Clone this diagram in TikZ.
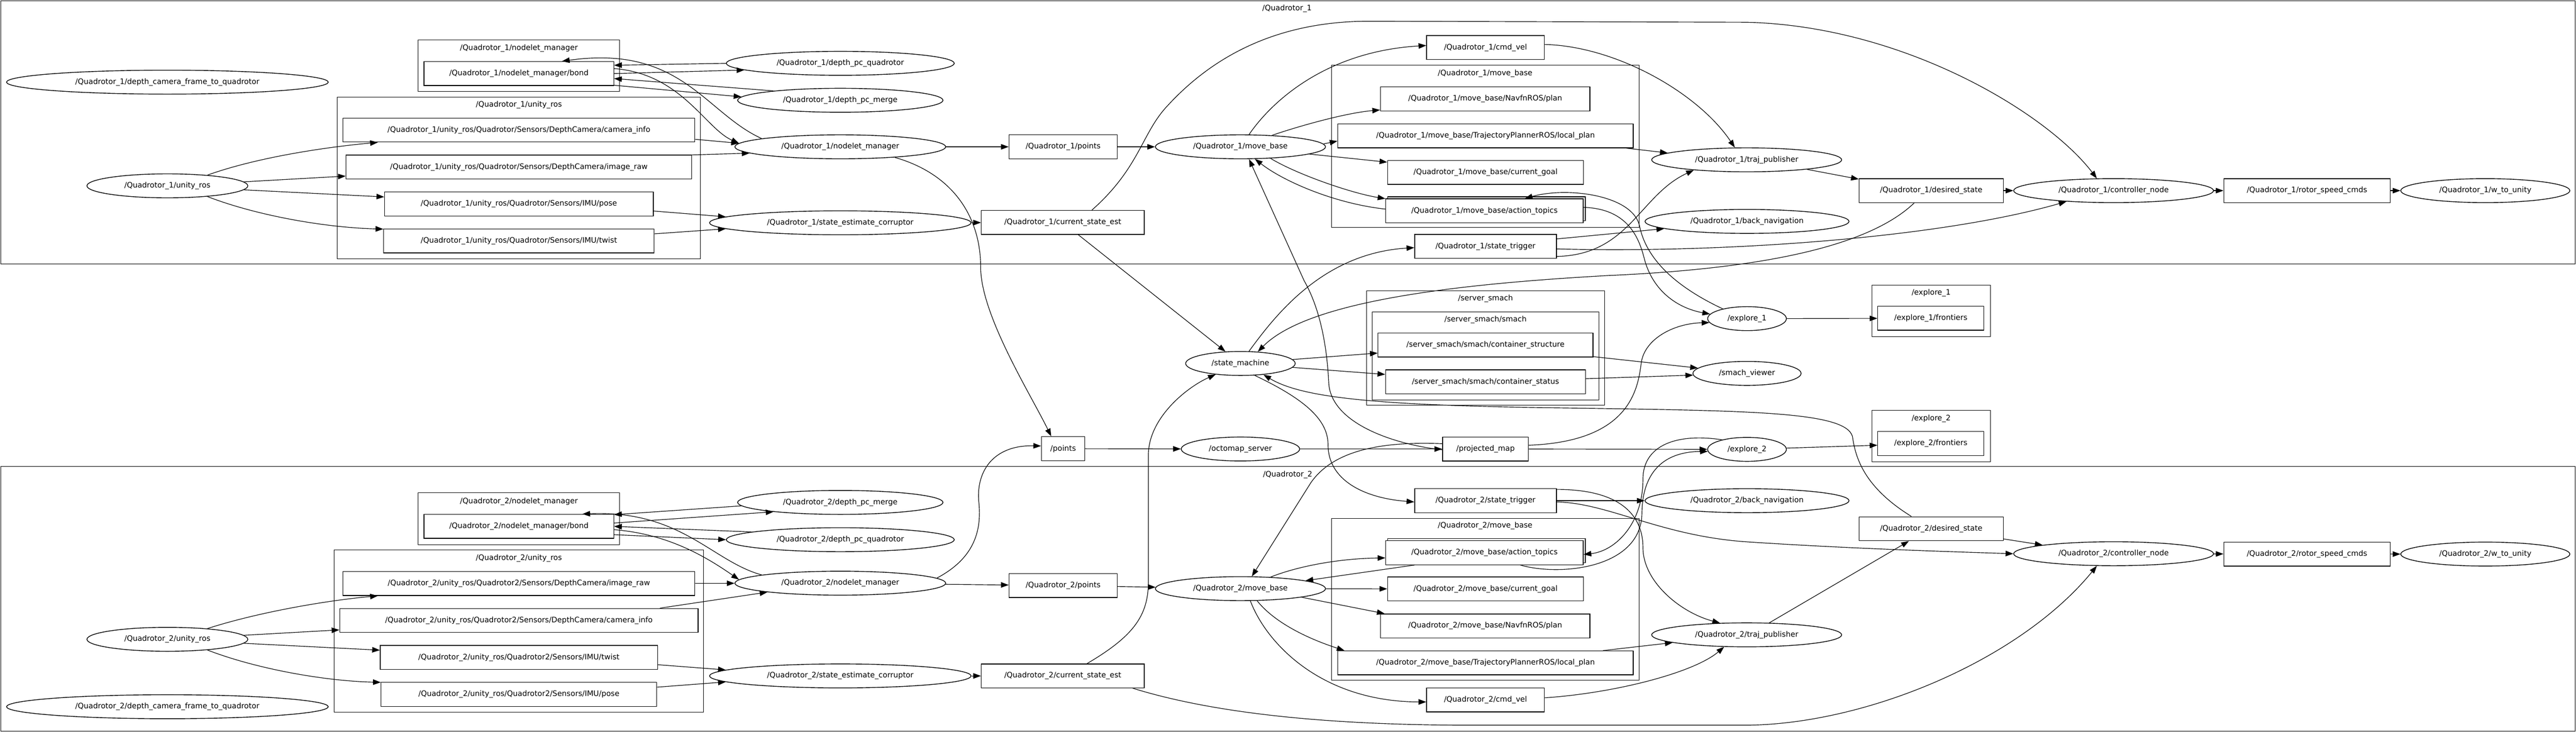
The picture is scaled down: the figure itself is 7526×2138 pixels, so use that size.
\documentclass[tikz,border=0pt]{standalone}
\usepackage{fontspec}
\setmainfont{DejaVu Sans}
\usetikzlibrary{arrows.meta,shapes.geometric,shadows}

\tikzset{
  topic/.style={draw,rectangle,line width=1.2pt,minimum height=14mm,inner sep=0pt,fill=white},
  rosnode/.style={draw,ellipse,line width=1.2pt,minimum height=14mm,inner sep=0pt,fill=white},
  actiontopic/.style={topic,copy shadow={shadow xshift=1.2mm,shadow yshift=1.2mm,draw=black,fill=white,line width=1.2pt}},
  cluster/.style={draw,line width=0.8pt},
  title/.style={inner sep=1pt}
}

\begin{document}
\begin{tikzpicture}[x=0.2mm,y=-0.2mm,font=\fontsize{12.5}{15}\selectfont]
\useasboundingbox (0,0) rectangle (7526,2138);

\begin{scope}[every path/.style={cluster}]
    \draw (2,2) rectangle (7524,772);
    \draw (1221,117) rectangle (1810,267);
    \draw (985,283) rectangle (2046,757);
    \draw (3890,191) rectangle (4788,665);
    \draw (3993,849) rectangle (4688,1184);
    \draw (4009,911) rectangle (4671,1169);
    \draw (5469,833) rectangle (5815,983);
    \draw (5469,1199) rectangle (5815,1349);
    \draw (2,1363) rectangle (7524,2136);
    \draw (1221,1440) rectangle (1810,1591);
    \draw (976,1607) rectangle (2055,2081);
    \draw (3890,1515) rectangle (4788,1988);
\end{scope}

\begin{scope}[every node/.style={title}]
    \node (q1title) at (3760,25) {/Quadrotor\_1};
    \node (q1nmtitle) at (1516,141) {/Quadrotor\_1/nodelet\_manager};
    \node (q1unitytitle) at (1516,307) {/Quadrotor\_1/unity\_ros};
    \node (q1mbtitle) at (4339,215) {/Quadrotor\_1/move\_base};
    \node (smachtitle) at (4340,872) {/server\_smach};
    \node (smachsubtitle) at (4340,934) {/server\_smach/smach};
    \node (ex1title) at (5642,856) {/explore\_1};
    \node (ex2title) at (5642,1223) {/explore\_2};
    \node (q2title) at (3762,1387) {/Quadrotor\_2};
    \node (q2nmtitle) at (1516,1465) {/Quadrotor\_2/nodelet\_manager};
    \node (q2unitytitle) at (1516,1631) {/Quadrotor\_2/unity\_ros};
    \node (q2mbtitle) at (4339,1537) {/Quadrotor\_2/move\_base};
\end{scope}

\node[rosnode,minimum width=188mm] (q1dcf) at (489,240) {/Quadrotor\_1/depth\_camera\_frame\_to\_quadrotor};
\node[topic,minimum width=110.8mm] (q1bond) at (1516,215) {/Quadrotor\_1/nodelet\_manager/bond};
\node[topic,minimum width=205.6mm] (q1caminfo) at (1516,380) {/Quadrotor\_1/unity\_ros/Quadrotor/Sensors/DepthCamera/camera\_info};
\node[topic,minimum width=202mm] (q1imgraw) at (1516,488) {/Quadrotor\_1/unity\_ros/Quadrotor/Sensors/DepthCamera/image\_raw};
\node[topic,minimum width=157mm] (q1pose) at (1516,596) {/Quadrotor\_1/unity\_ros/Quadrotor/Sensors/IMU/pose};
\node[topic,minimum width=158mm] (q1twist) at (1516,704) {/Quadrotor\_1/unity\_ros/Quadrotor/Sensors/IMU/twist};
\node[rosnode,minimum width=94mm] (q1unity) at (489,543) {/Quadrotor\_1/unity\_ros};
\node[rosnode,minimum width=133.2mm] (q1dpcq) at (2455,185) {/Quadrotor\_1/depth\_pc\_quadrotor};
\node[rosnode,minimum width=120mm] (q1dpcm) at (2455,293) {/Quadrotor\_1/depth\_pc\_merge};
\node[rosnode,minimum width=123.2mm] (q1nm) at (2455,429) {/Quadrotor\_1/nodelet\_manager};
\node[rosnode,minimum width=152.8mm] (q1sec) at (2455,651) {/Quadrotor\_1/state\_estimate\_corruptor};
\node[topic,minimum width=63.2mm] (q1points) at (3106,429) {/Quadrotor\_1/points};
\node[topic,minimum width=95.2mm] (q1cse) at (3105,650) {/Quadrotor\_1/current\_state\_est};
\node[rosnode,minimum width=99.4mm] (q1mb) at (3624,429) {/Quadrotor\_1/move\_base};
\node[topic,minimum width=68.8mm] (q1cmd) at (4340,139) {/Quadrotor\_1/cmd\_vel};
\node[topic,minimum width=122.4mm] (q1plan) at (4339,289) {/Quadrotor\_1/move\_base/NavfnROS/plan};
\node[topic,minimum width=172.6mm] (q1local) at (4340,397) {/Quadrotor\_1/move\_base/TrajectoryPlannerROS/local\_plan};
\node[topic,minimum width=114.4mm] (q1goal) at (4340,504) {/Quadrotor\_1/move\_base/current\_goal};
\node[actiontopic,minimum width=115.4mm] (q1action) at (4337,616) {/Quadrotor\_1/move\_base/action\_topics};
\node[topic,minimum width=82.8mm] (q1trig) at (4340,720) {/Quadrotor\_1/state\_trigger};
\node[rosnode,minimum width=111mm] (q1traj) at (5103,467) {/Quadrotor\_1/traj\_publisher};
\node[rosnode,minimum width=119.2mm] (q1back) at (5104,647) {/Quadrotor\_1/back\_navigation};
\node[topic,minimum width=84.2mm] (q1des) at (5642,557) {/Quadrotor\_1/desired\_state};
\node[rosnode,minimum width=116.8mm] (q1ctrl) at (6175,557) {/Quadrotor\_1/controller\_node};
\node[topic,minimum width=97.2mm] (q1rotor) at (6740,557) {/Quadrotor\_1/rotor\_speed\_cmds};
\node[rosnode,minimum width=98.8mm] (q1w) at (7261,557) {/Quadrotor\_1/w\_to\_unity};

\node[rosnode,minimum width=64mm] (sm) at (3624,1062) {/state\_machine};
\node[topic,minimum width=125.6mm] (cstruct) at (4340,1008) {/server\_smach/smach/container\_structure};
\node[topic,minimum width=116.8mm] (cstatus) at (4340,1116) {/server\_smach/smach/container\_status};
\node[rosnode,minimum width=63.2mm] (smview) at (5104,1091) {/smach\_viewer};
\node[rosnode,minimum width=46mm] (ex1) at (5104,931) {/explore\_1};
\node[topic,minimum width=62mm] (ex1front) at (5641,930) {/explore\_1/frontiers};
\node[rosnode,minimum width=46mm] (ex2) at (5104,1313) {/explore\_2};
\node[topic,minimum width=62mm] (ex2front) at (5641,1296) {/explore\_2/frontiers};
\node[topic,minimum width=25.4mm] (pts) at (3106,1311) {/points};
\node[rosnode,minimum width=69.2mm] (octo) at (3624,1312) {/octomap\_server};
\node[topic,minimum width=50.2mm] (pm) at (4340,1312) {/projected\_map};

\node[topic,minimum width=110.8mm] (q2bond) at (1516,1538) {/Quadrotor\_2/nodelet\_manager/bond};
\node[topic,minimum width=205.6mm] (q2imgraw) at (1516,1705) {/Quadrotor\_2/unity\_ros/Quadrotor2/Sensors/DepthCamera/image\_raw};
\node[topic,minimum width=209.4mm] (q2caminfo) at (1516,1813) {/Quadrotor\_2/unity\_ros/Quadrotor2/Sensors/DepthCamera/camera\_info};
\node[topic,minimum width=162mm] (q2twist) at (1516,1921) {/Quadrotor\_2/unity\_ros/Quadrotor2/Sensors/IMU/twist};
\node[topic,minimum width=161mm] (q2pose) at (1516,2029) {/Quadrotor\_2/unity\_ros/Quadrotor2/Sensors/IMU/pose};
\node[rosnode,minimum width=94mm] (q2unity) at (489,1868) {/Quadrotor\_2/unity\_ros};
\node[rosnode,minimum width=188mm] (q2dcf) at (489,2065) {/Quadrotor\_2/depth\_camera\_frame\_to\_quadrotor};
\node[rosnode,minimum width=120mm] (q2dpcm) at (2455,1468) {/Quadrotor\_2/depth\_pc\_merge};
\node[rosnode,minimum width=133.2mm] (q2dpcq) at (2455,1577) {/Quadrotor\_2/depth\_pc\_quadrotor};
\node[rosnode,minimum width=123.2mm] (q2nm) at (2455,1704) {/Quadrotor\_2/nodelet\_manager};
\node[rosnode,minimum width=152.8mm] (q2sec) at (2455,1975) {/Quadrotor\_2/state\_estimate\_corruptor};
\node[topic,minimum width=63.2mm] (q2points) at (3106,1711) {/Quadrotor\_2/points};
\node[topic,minimum width=95.2mm] (q2cse) at (3105,1975) {/Quadrotor\_2/current\_state\_est};
\node[rosnode,minimum width=99.4mm] (q2mb) at (3624,1720) {/Quadrotor\_2/move\_base};
\node[topic,minimum width=82.8mm] (q2trig) at (4340,1463) {/Quadrotor\_2/state\_trigger};
\node[actiontopic,minimum width=115.4mm] (q2action) at (4337,1615) {/Quadrotor\_2/move\_base/action\_topics};
\node[topic,minimum width=114.4mm] (q2goal) at (4340,1721) {/Quadrotor\_2/move\_base/current\_goal};
\node[topic,minimum width=122.4mm] (q2plan) at (4339,1829) {/Quadrotor\_2/move\_base/NavfnROS/plan};
\node[topic,minimum width=172.6mm] (q2local) at (4340,1937) {/Quadrotor\_2/move\_base/TrajectoryPlannerROS/local\_plan};
\node[topic,minimum width=68.8mm] (q2cmd) at (4340,2045) {/Quadrotor\_2/cmd\_vel};
\node[rosnode,minimum width=111mm] (q2traj) at (5103,1855) {/Quadrotor\_2/traj\_publisher};
\node[rosnode,minimum width=119.2mm] (q2back) at (5104,1463) {/Quadrotor\_2/back\_navigation};
\node[topic,minimum width=84.2mm] (q2des) at (5642,1545) {/Quadrotor\_2/desired\_state};
\node[rosnode,minimum width=116.8mm] (q2ctrl) at (6175,1618) {/Quadrotor\_2/controller\_node};
\node[topic,minimum width=97.2mm] (q2rotor) at (6740,1619) {/Quadrotor\_2/rotor\_speed\_cmds};
\node[rosnode,minimum width=98.8mm] (q2w) at (7261,1619) {/Quadrotor\_2/w\_to\_unity};

\begin{scope}[>={Triangle[length=4.5mm,width=3.2mm]},
              every edge/.style={draw,->,line width=1pt},
              line width=1pt]
    \draw[->] (q1unity.15) .. controls (750,460) and (950,430) .. (q1caminfo.185);
    \path (q1unity.3) edge (q1imgraw.183);
    \path (q1unity.357) edge (q1pose.177);
    \draw[->] (q1unity.345) .. controls (750,630) and (950,665) .. (q1twist.175);
    \path (q1caminfo.357) edge (q1nm.178);
    \path (q1imgraw.4) edge (q1nm.184);
    \path (q1pose.357) edge (q1sec.177);
    \path (q1twist.3) edge (q1sec.183);
    \path (q1sec) edge (q1cse);
    \path (q1nm) edge (q1points);
    \path (q1points) edge (q1mb);
    \path (q1dpcq.180) edge (q1bond.5);
    \path (q1bond.east) edge (q1dpcq.184);
    \path (q1dpcm.172) edge (q1bond.357);
    \path (q1bond.353) edge (q1dpcm.178);
    \draw[->] (q1bond.3) .. controls (1990,215) and (2060,375) .. (q1nm.178);
    \draw[->] (q1nm.174) .. controls (2060,330) and (1990,130) .. (q1bond.16);
    \draw[->] (q1mb.20) .. controls (3790,370) and (3930,330) .. (q1plan.186);
    \path (q1mb.2) edge (q1local.182);
    \path (q1mb.354) edge (q1goal.174);
    \draw[->] (q1mb.339) .. controls (3790,510) and (3950,565) .. (q1action.173);
    \draw[->] (q1action.179) .. controls (3900,595) and (3750,530) .. (q1mb.320);
    \draw[->] (q1mb.55) .. controls (3720,290) and (3880,150) .. (q1cmd.178);
    \draw[->] (q1cmd.3) .. controls (4720,135) and (4960,270) .. (q1traj.134);
    \path (q1local.355) edge (q1traj.175);
    \path (q1traj.351) edge (q1des.171);
    \path (q1des) edge (q1ctrl);
    \path (q1ctrl) edge (q1rotor);
    \path (q1rotor) edge (q1w);
    \draw[->] (q1cse.23) .. controls (3330,490) and (3335,390) .. (3410,310) .. controls (3520,190) and (3700,62) .. (4000,62) -- (5100,65) .. controls (5560,75) and (5980,330) .. (q1ctrl.144);
    \path (q1trig.6) edge (q1back.185);
    \draw[->] (q1trig.352) .. controls (4760,745) and (4790,570) .. (q1traj.191);
    \draw[->] (q1trig.358) .. controls (5000,740) and (5650,700) .. (q1ctrl.193);
    \draw[->] (q1action.2) .. controls (4760,610) and (4790,700) .. (4805,760) .. controls (4830,850) and (4900,900) .. (ex1.173);
    \draw[->] (ex1.158) .. controls (4900,840) and (4810,760) .. (4790,660) .. controls (4770,570) and (4580,545) .. (q1action.17);

    \path (q1cse) edge (sm);
    \draw[->] (sm.55) .. controls (3720,930) and (3860,740) .. (q1trig.181);
    \draw[->] (q1des.216) .. controls (5460,720) and (5150,785) .. (4700,805) .. controls (4250,830) and (3820,880) .. (sm.34);
    \draw[->] (q2des.148) .. controls (5440,1420) and (5420,1330) .. (5412,1275) .. controls (5390,1200) and (5100,1200) .. (4500,1191) .. controls (4000,1183) and (3800,1160) .. (sm.334);
    \draw[->] (q2cse.27) .. controls (3310,1860) and (3355,1800) .. (3355,1700) -- (3355,1330) .. controls (3355,1220) and (3470,1130) .. (sm.204);
    \draw[->] (sm.320) .. controls (3820,1170) and (3880,1230) .. (3880,1300) .. controls (3880,1400) and (3980,1455) .. (q2trig.181);
    \path (sm) edge (cstruct);
    \path (sm) edge (cstatus);
    \path (cstruct) edge (smview);
    \path (cstatus) edge (smview);
    \draw[->] (q1nm.349) .. controls (2790,510) and (2865,640) .. (2865,780) .. controls (2865,920) and (3010,1150) .. (pts.134);
    \draw[->] (q2nm.3) .. controls (2830,1640) and (2870,1570) .. (2860,1470) .. controls (2850,1380) and (2900,1300) .. (pts.173);
    \path (pts) edge (octo);
    \path (octo) edge (pm);
    \draw[->] (pm.181) .. controls (4080,1300) and (3890,1240) .. (3882,1120) .. controls (3876,990) and (3850,890) .. (3810,820) -- (q1mb.305);
    \draw[->] (pm.173) .. controls (4050,1290) and (3900,1310) .. (3830,1410) -- (q2mb.47);
    \draw[->] (pm.5) .. controls (4760,1290) and (4785,1140) .. (4795,1060) .. controls (4805,990) and (4890,945) .. (ex1.186);
    \path (pm) edge (ex2);
    \path (ex1) edge (ex1front);
    \path (ex2) edge (ex2front);

    \draw[->] (q2unity.15) .. controls (750,1790) and (950,1755) .. (q2imgraw.185);
    \path (q2unity.3) edge (q2caminfo.183);
    \path (q2unity.357) edge (q2twist.177);
    \draw[->] (q2unity.345) .. controls (750,1955) and (950,1990) .. (q2pose.175);
    \path (q2imgraw) edge (q2nm);
    \path (q2caminfo.5) edge (q2nm.187);
    \path (q2twist.357) edge (q2sec.177);
    \path (q2pose.3) edge (q2sec.183);
    \path (q2sec) edge (q2cse);
    \path (q2nm) edge (q2points);
    \path (q2points) edge (q2mb);
    \path (q2dpcm.182) edge (q2bond.7);
    \path (q2bond.2) edge (q2dpcm.188);
    \path (q2dpcq.175) edge (q2bond.east);
    \path (q2bond.355) edge (q2dpcq.180);
    \draw[->] (q2nm.174) .. controls (2080,1640) and (1990,1490) .. (q2bond.11);
    \draw[->] (q2bond.358) .. controls (1950,1560) and (2060,1625) .. (q2nm.178);
    \draw[->] (q2mb.21) .. controls (3790,1655) and (3910,1632) .. (q2action.183);
    \path (q2action.190) edge (q2mb.7);
    \path (q2mb) edge (q2goal);
    \path (q2mb.352) edge (q2plan.173);
    \draw[->] (q2mb.324) .. controls (3740,1840) and (3880,1885) .. (q2local.175);
    \draw[->] (q2mb.309) .. controls (3700,1880) and (3860,2050) .. (q2cmd.182);
    \path (q2local.6) edge (q2traj.186);
    \draw[->] (q2cmd.2) .. controls (4720,2025) and (4950,1965) .. (q2traj.208);
    \path (q2traj.28) edge (q2des.209);
    \path (q2des.352) edge (q2ctrl.173);
    \path (q2ctrl) edge (q2rotor);
    \path (q2rotor) edge (q2w);
    \path (q2trig) edge (q2back);
    \draw[->] (q2trig.9) .. controls (4740,1430) and (4800,1510) .. (4800,1600) .. controls (4800,1700) and (4910,1790) .. (q2traj.156);
    \draw[->] (q2trig.359) .. controls (4700,1470) and (4850,1565) .. (5100,1583) .. controls (5400,1603) and (5700,1612) .. (q2ctrl.180);
    \draw[->] (ex2.159) .. controls (4900,1265) and (4800,1300) .. (4800,1400) .. controls (4800,1530) and (4720,1610) .. (q2action.359);
    \draw[->] (q2action.341) .. controls (4560,1685) and (4795,1660) .. (4797,1500) .. controls (4798,1380) and (4860,1320) .. (ex2.183);
    \draw[->] (q2cse.350) .. controls (3500,2070) and (3800,2119) .. (4300,2119) -- (5100,2119) .. controls (5450,2117) and (5900,1930) .. (q2ctrl.216);
\end{scope}
\end{tikzpicture}
\end{document}
